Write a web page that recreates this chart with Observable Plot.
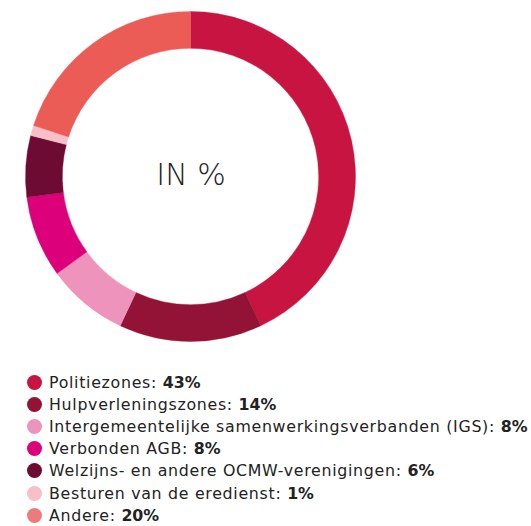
<!DOCTYPE html>
<html>
<head>
<meta charset="utf-8">
<script src="https://cdn.jsdelivr.net/npm/d3@7"></script>
<script src="https://cdn.jsdelivr.net/npm/@observablehq/plot@0.6"></script>
<style>
  html, body { margin: 0; padding: 0; background: #fff; }
  body { width: 531px; height: 526px; overflow: hidden; font-family: "DejaVu Sans", sans-serif; }
  #chart svg { display: block; }
  .legend { margin: 0; padding: 0; position: absolute; top: 371px; left: 27px; }
  .item { display: flex; align-items: center; height: 22.2px; font-size: 15.8px; letter-spacing: 0.7px; color: #222; white-space: nowrap; }
  .dot { width: 15px; height: 15px; border-radius: 50%; margin-right: 7px; flex: none; }
  .item b { font-weight: bold; letter-spacing: 0; }
</style>
</head>
<body>
<div id="chart"></div>
<div class="legend" id="legend"></div>
<script>
const categories = [
  "Politiezones",
  "Hulpverleningszones",
  "Intergemeentelijke samenwerkingsverbanden (IGS)",
  "Verbonden AGB",
  "Welzijns- en andere OCMW-verenigingen",
  "Besturen van de eredienst",
  "Andere"
];
const values = [43, 14, 8, 8, 6, 1, 20];
const sliceColors = ["#C81441", "#921335", "#EE93BC", "#DC007A", "#6E0B33", "#F7C0C8", "#EB5C57"];
const legendColors = ["#C81441", "#921335", "#EE93BC", "#DC007A", "#6E0B33", "#F7C0C8", "#EE7B7B"];
const centerLabel = "IN %";

const data = categories.map((c, i) => ({category: c, value: values[i]}));
const arcs = d3.pie().sort(null).value(d => d.value)(data);

const innerRatio = 0.777;

const plot = Plot.plot({
  width: 531,
  height: 355,
  margin: 0,
  x: {domain: [-1, 1], range: [25.5, 355.5], axis: null},
  y: {domain: [-1, 1], range: [341.5, 11.5], axis: null},
  color: {domain: categories, range: sliceColors},
  marks: [
    Plot.dot(arcs, {
      x: () => 0,
      y: () => 0,
      fill: d => d.data.category,
      render(index, scales, values, dimensions, context) {
        const cx = scales.x(0), cy = scales.y(0);
        const ro = scales.x(1) - scales.x(0);
        const ri = ro * innerRatio;
        const arcGen = d3.arc().innerRadius(ri).outerRadius(ro);
        const g = d3.create("svg:g").attr("transform", `translate(${cx},${cy})`);
        for (const i of index) {
          g.append("path")
            .attr("d", arcGen(arcs[i]))
            .attr("fill", values.fill[i])
            .attr("stroke", values.fill[i])
            .attr("stroke-width", 0.4);
        }
        return g.node();
      }
    }),
    Plot.text([centerLabel], {
      x: () => 0,
      y: () => 0,
      text: d => d,
      fontSize: 30,
      fontWeight: 200,
      fontFamily: "DejaVu Sans",
      fill: "#222",
      dy: -2
    })
  ]
});
document.getElementById("chart").appendChild(plot);

const legend = document.getElementById("legend");
categories.forEach((c, i) => {
  const item = document.createElement("div");
  item.className = "item";
  const dot = document.createElement("span");
  dot.className = "dot";
  dot.style.background = legendColors[i];
  const label = document.createElement("span");
  label.innerHTML = `${c}: <b>${values[i]}%</b>`;
  item.appendChild(dot);
  item.appendChild(label);
  legend.appendChild(item);
});
</script>
</body>
</html>
